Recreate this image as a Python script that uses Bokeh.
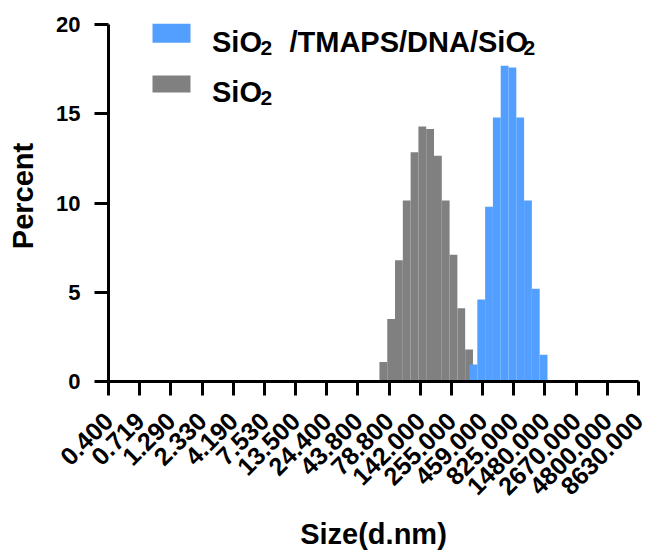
import math
from bokeh.plotting import figure
from bokeh.models import (FixedTicker, PrintfTickFormatter, ColumnDataSource,
                          Label, BoxAnnotation)
from bokeh.embed import file_html
from bokeh.resources import INLINE

# ---- data ----
tick_sizes = [0.4, 0.719, 1.29, 2.33, 4.19, 7.53, 13.5, 24.4, 43.8, 78.8,
              142.0, 255.0, 459.0, 825.0, 1480.0, 2670.0, 4800.0, 8630.0]

sio2_sizes = [70.7, 81.9, 94.8, 109.8, 127.2, 147.3, 170.6, 197.5, 228.8, 264.9, 306.8, 355.3]
sio2_pct = [1.1, 3.5, 6.8, 10.15, 12.85, 14.3, 14.15, 12.65, 10.15, 7.1, 4.1, 1.8]

coat_sizes = [385.6, 446.6, 517.2, 598.9, 693.6, 803.3, 930.3, 1077.0, 1248.0, 1445.0]
coat_pct = [0.95, 4.6, 9.8, 14.8, 17.7, 17.6, 14.8, 10.15, 5.2, 1.5]

y_ticks = [0, 5, 10, 15, 20]

# legend text pieces (main text, subscript)
legend_coat = [("SiO", "2"), ("/TMAPS/DNA/SiO", "2")]
legend_sio2 = [("SiO", "2")]

# 4 instrument bins between consecutive labelled sizes
bin_ratio = (tick_sizes[-1] / tick_sizes[0]) ** (1.0 / (4 * (len(tick_sizes) - 1)))
half = math.sqrt(bin_ratio)


def make_src(sizes, pct):
    return ColumnDataSource(dict(
        left=[s / half for s in sizes],
        right=[s * half for s in sizes],
        top=pct,
        bottom=[0] * len(pct),
    ))


FONT = "Liberation Sans"
GRAY = "#808080"
BLUE = "#539FFF"

p = figure(width=646, height=552, x_axis_type="log",
           x_range=(tick_sizes[0], tick_sizes[-1]), y_range=(0, 20.8),
           output_backend="svg", toolbar_location=None,
           min_border_left=108, min_border_right=8, min_border_top=10, min_border_bottom=171)

r_sio2 = p.quad(left="left", right="right", top="top", bottom="bottom",
                source=make_src(sio2_sizes, sio2_pct), fill_color=GRAY, line_color=None)
r_coat = p.quad(left="left", right="right", top="top", bottom="bottom",
                source=make_src(coat_sizes, coat_pct), fill_color=BLUE, line_color=None)

p.xgrid.visible = False
p.ygrid.visible = False
p.outline_line_color = None
p.background_fill_color = "white"
p.border_fill_color = "white"

xa = p.xaxis[0]
xa.ticker = FixedTicker(ticks=tick_sizes, minor_ticks=[])
xa.formatter = PrintfTickFormatter(format="%.3f")
xa.major_label_orientation = math.pi / 4
xa.axis_label = "Size(d.nm)"

ya = p.yaxis[0]
ya.ticker = FixedTicker(ticks=y_ticks, minor_ticks=[])
ya.bounds = (y_ticks[0], y_ticks[-1])
ya.axis_label = "Percent"

for ax in (xa, ya):
    ax.axis_line_width = 3
    ax.axis_line_color = "black"
    ax.major_tick_line_width = 3
    ax.major_tick_line_color = "black"
    ax.major_tick_out = 14
    ax.major_tick_in = 0
    ax.minor_tick_line_color = None
    ax.major_label_text_font = FONT
    ax.major_label_text_font_style = "bold"
    ax.major_label_text_color = "black"
    ax.axis_label_text_font = FONT
    ax.axis_label_text_font_style = "bold"
    ax.axis_label_text_font_size = "29px"
    ax.axis_label_text_color = "black"

xa.major_label_text_font_size = "25px"
xa.major_label_standoff = 21
xa.axis_label_standoff = 12
ya.major_label_text_font_size = "22px"
ya.major_label_standoff = 14
ya.axis_label_standoff = 14

# ---- legend (drawn by hand so the "2" can be a real subscript) ----
# screen units: x from frame left, y up from frame bottom
LEG_MAIN = "29px"
LEG_SUB = "21px"


def swatch(color, top, bottom):
    p.add_layout(BoxAnnotation(left=44, right=82, top=top, bottom=bottom,
                               left_units="screen", right_units="screen",
                               top_units="screen", bottom_units="screen",
                               fill_color=color, fill_alpha=1.0, line_color=None,
                               level="overlay"))


def legend_text(pieces, xs, baseline):
    for (main, sub), (xm, xs_) in zip(pieces, xs):
        p.add_layout(Label(x=xm, y=baseline, x_units="screen", y_units="screen",
                           text=main, text_font=FONT, text_font_style="bold",
                           text_font_size=LEG_MAIN, text_color="black",
                           text_baseline="alphabetic", text_align="left"))
        p.add_layout(Label(x=xs_, y=baseline - 5.5, x_units="screen", y_units="screen",
                           text=sub, text_font=FONT, text_font_style="bold",
                           text_font_size=LEG_SUB, text_color="black",
                           text_baseline="alphabetic", text_align="left"))


swatch(BLUE, 357.7, 338.7)
swatch(GRAY, 306.0, 289.0)
legend_text(legend_coat, [(103.5, 152.0), (181.0, 415.0)], 339.3)
legend_text(legend_sio2, [(103.5, 152.0)], 289.5)

open("out.html", "w").write(file_html(p, INLINE))
